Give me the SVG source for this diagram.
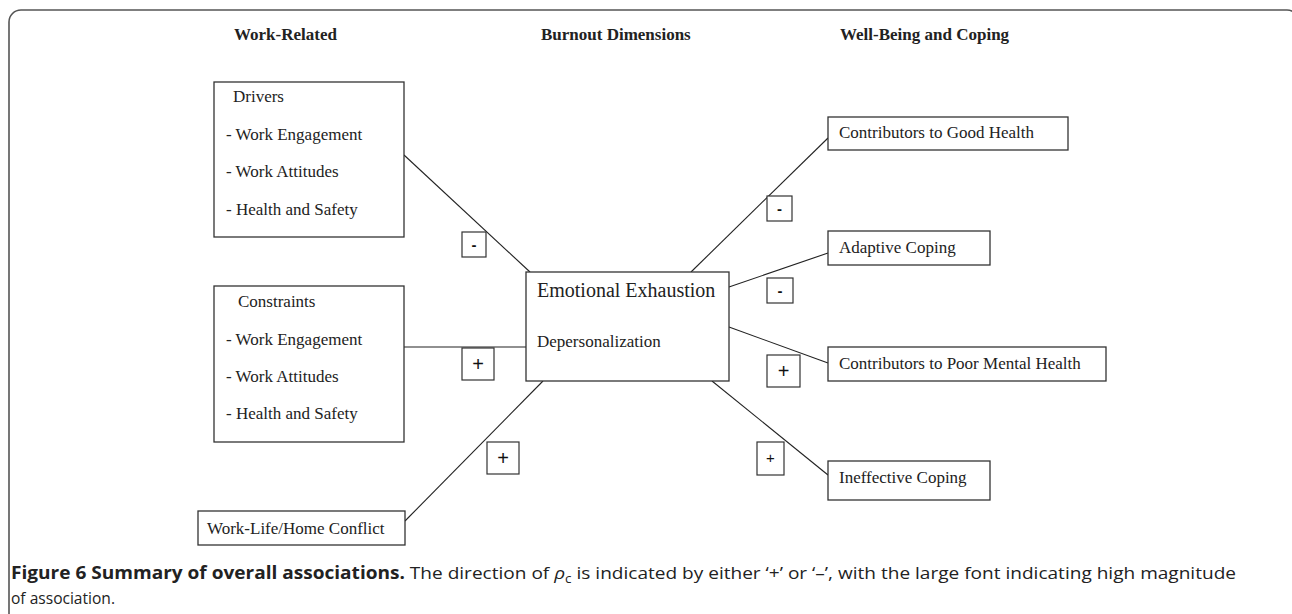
<svg xmlns="http://www.w3.org/2000/svg" width="1292" height="614" viewBox="0 0 1292 614">
<style>
.frame{fill:none;stroke:#555;stroke-width:1.6}
.box{fill:#fff;stroke:#333;stroke-width:1.3}
.sbox{fill:#fff;stroke:#333;stroke-width:1.2}
.t{font-family:"Liberation Serif","Times New Roman",serif;font-size:17px;fill:#222}
.h{font-family:"Liberation Serif","Times New Roman",serif;font-size:17px;font-weight:bold;fill:#222}
.big{font-size:20px}
.sg{font-family:"Liberation Sans",Arial,sans-serif;fill:#111;text-anchor:middle}
.minus{font-size:15px;font-weight:bold}
.plusL{font-size:20px}
.plusS{font-size:15px}
.conn line{stroke:#222;stroke-width:1.1}
.cap{font-family:"Open Sans","Noto Sans",sans-serif;font-size:17px;fill:#222}
</style>
<rect class="frame" x="9" y="10" width="1290" height="640" rx="12"/>
<g id="headers">
<text class="h" x="234" y="40">Work-Related</text>
<text class="h" x="541" y="40">Burnout Dimensions</text>
<text class="h" x="840" y="40">Well-Being and Coping</text>
</g>
<g id="connectors" class="conn">
<line x1="404" y1="155" x2="530" y2="272"/>
<line x1="404" y1="347" x2="526" y2="347"/>
<line x1="405" y1="521" x2="543" y2="381"/>
<line x1="691" y1="272" x2="828" y2="138"/>
<line x1="729" y1="287" x2="828" y2="253"/>
<line x1="729" y1="327" x2="828" y2="363"/>
<line x1="712" y1="381" x2="828" y2="475"/>
</g>
<g id="drivers">
<rect class="box" x="214" y="82" width="190" height="155"/>
<text class="t" x="233" y="102">Drivers</text>
<text class="t" x="226" y="140">- Work Engagement</text>
<text class="t" x="226" y="177">- Work Attitudes</text>
<text class="t" x="226" y="215">- Health and Safety</text>
</g>
<g id="constraints">
<rect class="box" x="214" y="286" width="190" height="156"/>
<text class="t" x="238" y="307">Constraints</text>
<text class="t" x="226" y="345">- Work Engagement</text>
<text class="t" x="226" y="382">- Work Attitudes</text>
<text class="t" x="226" y="419">- Health and Safety</text>
</g>
<g id="worklife">
<rect class="box" x="198" y="511" width="207" height="34"/>
<text class="t" x="207" y="534">Work-Life/Home Conflict</text>
</g>
<g id="burnout">
<rect class="box" x="526" y="272" width="203" height="109"/>
<text class="t big" x="537" y="297">Emotional Exhaustion</text>
<text class="t" x="537" y="347">Depersonalization</text>
</g>
<g id="good-health">
<rect class="box" x="828" y="117" width="240" height="33"/>
<text class="t" x="839" y="138">Contributors to Good Health</text>
</g>
<g id="adaptive">
<rect class="box" x="828" y="231" width="162" height="34"/>
<text class="t" x="839" y="253">Adaptive Coping</text>
</g>
<g id="poor-mental">
<rect class="box" x="828" y="347" width="278" height="34"/>
<text class="t" x="839" y="369">Contributors to Poor Mental Health</text>
</g>
<g id="ineffective">
<rect class="box" x="828" y="461" width="162" height="39"/>
<text class="t" x="839" y="483">Ineffective Coping</text>
</g>
<g id="sign-drivers">
<rect class="sbox" x="462" y="232" width="24" height="25"/>
<text class="sg minus" x="474" y="250">-</text>
</g>
<g id="sign-constraints">
<rect class="sbox" x="462" y="348" width="32" height="32"/>
<text class="sg plusL" x="478" y="371">+</text>
</g>
<g id="sign-worklife">
<rect class="sbox" x="487" y="442" width="32" height="32"/>
<text class="sg plusL" x="503" y="465">+</text>
</g>
<g id="sign-good">
<rect class="sbox" x="767" y="196" width="25" height="25"/>
<text class="sg minus" x="779.5" y="214">-</text>
</g>
<g id="sign-adaptive">
<rect class="sbox" x="767" y="278" width="26" height="25"/>
<text class="sg minus" x="780" y="296">-</text>
</g>
<g id="sign-poor">
<rect class="sbox" x="767" y="355" width="33" height="32"/>
<text class="sg plusL" x="783.5" y="378">+</text>
</g>
<g id="sign-ineffective">
<rect class="sbox" x="757" y="442" width="27" height="33"/>
<text class="sg plusS" x="770.5" y="463">+</text>
</g>
<g id="caption">
<text class="cap" x="11" y="579" textLength="1225" lengthAdjust="spacingAndGlyphs"><tspan font-weight="bold">Figure 6 Summary of overall associations.</tspan> The direction of <tspan font-style="italic">ρ</tspan><tspan font-size="12" dy="4">c</tspan><tspan dy="-4"> is indicated by either ‘+’ or ‘–’, with the large font indicating high magnitude</tspan></text>
<text class="cap" x="11" y="604" textLength="104" lengthAdjust="spacingAndGlyphs">of association.</text>
</g>
</svg>
